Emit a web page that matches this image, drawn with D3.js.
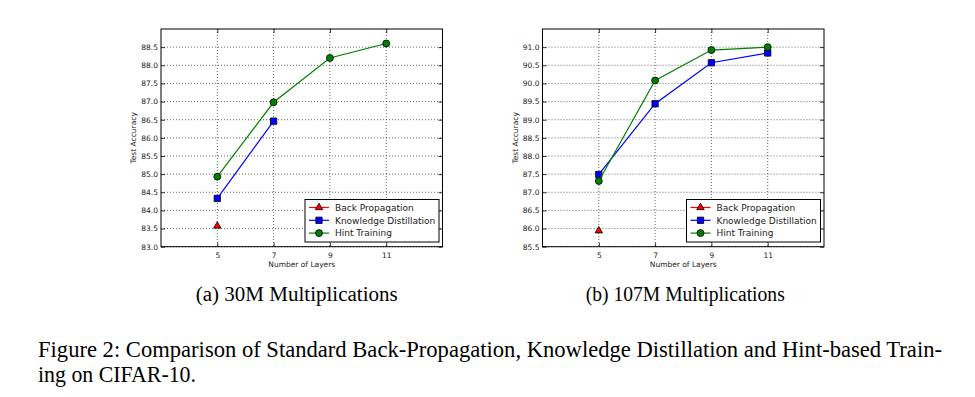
<!DOCTYPE html>
<html>
<head>
<meta charset="utf-8">
<script src="https://cdn.jsdelivr.net/npm/d3@7"></script>
<style>
  body { margin: 0; background: #fff; }
  svg { display: block; }
</style>
</head>
<body>
<svg id="fig" width="975" height="397"></svg>
<script>
// Data ---------------------------------------------------------
const layers = [5, 7, 9, 11];
const seriesNames = ["Back Propagation", "Knowledge Distillation", "Hint Training"];

// (a) 30M multiplications
const bpA = [83.57];
const kdA = [84.33, 86.46];
const htA = [84.93, 86.98, 88.20, 88.60];
const yTicksA = [83.0, 83.5, 84.0, 84.5, 85.0, 85.5, 86.0, 86.5, 87.0, 87.5, 88.0, 88.5];

// (b) 107M multiplications
const bpB = [85.94];
const kdB = [87.49, 89.44, 90.57, 90.84];
const htB = [87.31, 90.08, 90.92, 91.00];
const yTicksB = [85.5, 86.0, 86.5, 87.0, 87.5, 88.0, 88.5, 89.0, 89.5, 90.0, 90.5, 91.0];

const panels = [
    { left: 161, yDomain: [83, 89], ticks: yTicksA, series: [bpA, kdA, htA], caption: "(a) 30M Multiplications", capDx: -5 },
    { left: 542.5, yDomain: [85.5, 91.5], ticks: yTicksB, series: [bpB, kdB, htB], caption: "(b) 107M Multiplications", capDx: 2 }
];

const colors = ["#ff0000", "#0000ff", "#008000"];
const markers = [d3.symbolTriangle, d3.symbolSquare, d3.symbolCircle];
const markerSize = [24, 40, 38];

const svg = d3.select("#fig");
const plotW = 281.5, plotTop = 29, plotBottom = 246.7;

function drawMarker(g, i, x, y) {
    g.append("path")
        .attr("d", d3.symbol().type(markers[i]).size(markerSize[i]))
        .attr("transform", `translate(${x},${y})`)
        .attr("fill", colors[i])
        .attr("stroke", "#000")
        .attr("stroke-width", 0.8);
}

panels.forEach(p => {
    const x = d3.scaleLinear().domain([3, 13]).range([p.left, p.left + plotW]);
    const y = d3.scaleLinear().domain(p.yDomain).range([plotBottom, plotTop]);
    const g = svg.append("g");

    // Grid (dotted)
    g.append("g").selectAll("line.gx")
        .data(layers).enter().append("line")
        .attr("x1", d => x(d)).attr("x2", d => x(d))
        .attr("y1", plotTop).attr("y2", plotBottom)
        .attr("stroke", "#000").attr("stroke-width", 0.6)
        .attr("stroke-dasharray", "1,2");
    g.append("g").selectAll("line.gy")
        .data(p.ticks).enter().append("line")
        .attr("x1", x.range()[0]).attr("x2", x.range()[1])
        .attr("y1", d => y(d)).attr("y2", d => y(d))
        .attr("stroke", "#000").attr("stroke-width", 0.6)
        .attr("stroke-dasharray", "1,2");

    // Axes: ticks pointing in, labels outside
    const yAxis = d3.axisLeft(y).tickValues(p.ticks).tickFormat(d3.format(".1f")).tickSizeInner(-4).tickSizeOuter(0).tickPadding(3);
    const xAxis = d3.axisBottom(x).tickValues(layers).tickSizeInner(-4).tickSizeOuter(0).tickPadding(6);
    const ya = g.append("g").attr("transform", `translate(${x.range()[0]},0)`).call(yAxis);
    const xa = g.append("g").attr("transform", `translate(0,${plotBottom})`).call(xAxis);
    g.append("g").attr("transform", `translate(${x.range()[1]},0)`)
        .call(d3.axisRight(y).tickValues(p.ticks).tickSizeInner(-4).tickSizeOuter(0).tickFormat(""));
    g.append("g").attr("transform", `translate(0,${plotTop})`)
        .call(d3.axisTop(x).tickValues(layers).tickSizeInner(-4).tickSizeOuter(0).tickFormat(""));
    g.selectAll(".domain").remove();
    g.selectAll(".tick line").attr("stroke", "#000").attr("stroke-width", 0.8);
    [ya, xa].forEach(a => a.selectAll("text")
        .attr("font-family", "DejaVu Sans").attr("font-size", 7.5).attr("fill", "#222"));

    // Frame
    g.append("rect")
        .attr("x", x.range()[0]).attr("y", plotTop)
        .attr("width", plotW).attr("height", plotBottom - plotTop)
        .attr("fill", "none").attr("stroke", "#000").attr("stroke-width", 1);

    // Axis labels
    g.append("text")
        .attr("x", (x.range()[0] + x.range()[1]) / 2).attr("y", 267)
        .attr("text-anchor", "middle")
        .attr("font-family", "DejaVu Sans").attr("font-size", 7.5).attr("fill", "#222")
        .text("Number of Layers");
    g.append("text")
        .attr("transform", `translate(${x.range()[0] - 25},${(plotTop + plotBottom) / 2}) rotate(-90)`)
        .attr("text-anchor", "middle")
        .attr("font-family", "DejaVu Sans").attr("font-size", 7.5).attr("fill", "#222")
        .text("Test Accuracy");

    // Series lines and markers
    const line = d3.line().x((d, i) => x(layers[i])).y(d => y(d));
    p.series.forEach((vals, si) => {
        g.append("path").datum(vals)
            .attr("d", line)
            .attr("fill", "none").attr("stroke", colors[si]).attr("stroke-width", 1.2);
        vals.forEach((v, i) => drawMarker(g, si, x(layers[i]), y(v)));
    });

    // Legend
    const lx = p.left + 144, ly = 199.5, lw = 134, lh = 42.5;
    g.append("rect").attr("x", lx).attr("y", ly).attr("width", lw).attr("height", lh)
        .attr("fill", "#fff").attr("stroke", "#000").attr("stroke-width", 1);
    seriesNames.forEach((name, si) => {
        const ry = ly + 8 + si * 12.8;
        g.append("line").attr("x1", lx + 4).attr("x2", lx + 24).attr("y1", ry).attr("y2", ry)
            .attr("stroke", colors[si]).attr("stroke-width", 1.2);
        drawMarker(g, si, lx + 14, ry);
        g.append("text").attr("x", lx + 30).attr("y", ry + 3.3)
            .attr("font-family", "DejaVu Sans").attr("font-size", 9).attr("fill", "#222")
            .text(name);
    });

    // Sub caption
    svg.append("text")
        .attr("x", (x.range()[0] + x.range()[1]) / 2 + p.capDx).attr("y", 301)
        .attr("text-anchor", "middle")
        .attr("font-family", "Liberation Serif").attr("font-size", 20.5).attr("fill", "#000")
        .attr("textLength", p === panels[0] ? 202 : 199)
        .attr("lengthAdjust", "spacingAndGlyphs")
        .text(p.caption);
});

// Figure caption
const capLines = [
    "Figure 2: Comparison of Standard Back-Propagation, Knowledge Distillation and Hint-based Train-",
    "ing on CIFAR-10."
];
svg.selectAll("text.cap").data(capLines).enter().append("text")
    .attr("class", "cap")
    .attr("x", 38).attr("y", (d, i) => 357 + i * 24.5)
    .attr("font-family", "Liberation Serif").attr("font-size", 23).attr("fill", "#000")
    .attr("textLength", (d, i) => i === 0 ? 904 : 158)
    .attr("lengthAdjust", "spacingAndGlyphs")
    .text(d => d);
</script>
</body>
</html>
